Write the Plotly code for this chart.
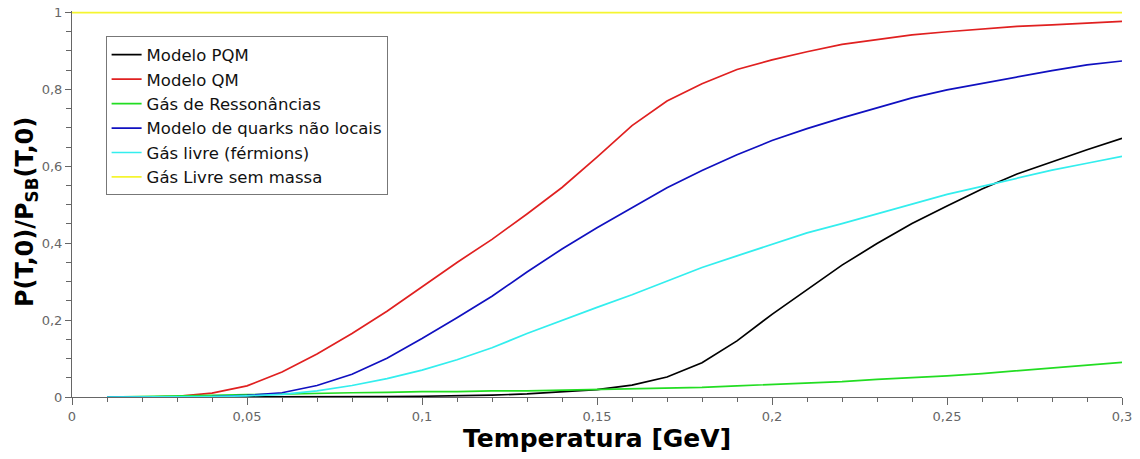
import plotly.graph_objects as go

T = [0.01, 0.02, 0.03, 0.04, 0.05, 0.06, 0.07, 0.08, 0.09, 0.10,
     0.11, 0.12, 0.13, 0.14, 0.15, 0.16, 0.17, 0.18, 0.19, 0.20,
     0.21, 0.22, 0.23, 0.24, 0.25, 0.26, 0.27, 0.28, 0.29, 0.30]

pqm = [0.0, 0.0, 0.0, 0.0, 0.0, 0.0, 0.0, 0.0, 0.001, 0.002,
       0.003, 0.005, 0.008, 0.013, 0.019, 0.031, 0.052, 0.089, 0.146, 0.215,
       0.280, 0.343, 0.399, 0.451, 0.497, 0.541, 0.580, 0.612, 0.643, 0.673]

qm = [0.0, 0.0, 0.002, 0.010, 0.029, 0.065, 0.112, 0.165, 0.223, 0.287,
      0.350, 0.410, 0.476, 0.545, 0.624, 0.706, 0.770, 0.815, 0.852, 0.877,
      0.898, 0.917, 0.930, 0.942, 0.950, 0.957, 0.964, 0.968, 0.972, 0.977]

hrg = [0.0, 0.001, 0.002, 0.004, 0.006, 0.008, 0.010, 0.011, 0.012, 0.014,
       0.014, 0.016, 0.016, 0.018, 0.019, 0.021, 0.023, 0.025, 0.029, 0.033,
       0.036, 0.040, 0.046, 0.050, 0.055, 0.061, 0.068, 0.075, 0.082, 0.090]

nonlocal_q = [0.0, 0.0, 0.0, 0.001, 0.004, 0.011, 0.030, 0.059, 0.101, 0.152,
              0.206, 0.262, 0.325, 0.385, 0.440, 0.491, 0.544, 0.589, 0.630, 0.667,
              0.698, 0.726, 0.753, 0.778, 0.799, 0.816, 0.834, 0.849, 0.864, 0.874]

free_fermions = [0.0, 0.0, 0.0, 0.001, 0.003, 0.007, 0.016, 0.030, 0.048, 0.070,
                 0.097, 0.128, 0.165, 0.200, 0.233, 0.266, 0.302, 0.337, 0.367, 0.398,
                 0.427, 0.451, 0.477, 0.503, 0.527, 0.548, 0.570, 0.590, 0.608, 0.626]

T_sb = [0.0, 0.30]
sb = [1.0, 1.0]

names = ["Modelo PQM", "Modelo QM", "Gás de Ressonâncias",
         "Modelo de quarks não locais", "Gás livre (férmions)", "Gás Livre sem massa"]
colors = ["#000000", "#e02020", "#22dd22", "#1010c0", "#33eeee", "#f5f530"]

fig = go.Figure()
series = [(T, pqm), (T, qm), (T, hrg), (T, nonlocal_q), (T, free_fermions), (T_sb, sb)]
for (x, y), name, c in zip(series, names, colors):
    fig.add_trace(go.Scatter(x=x, y=y, mode="lines", name=name,
                             line=dict(color=c, width=1.7)))

fig.update_layout(
    width=1140, height=459,
    margin=dict(l=72, r=18, t=11, b=62),
    paper_bgcolor="white", plot_bgcolor="white",
    separators=",.",
    showlegend=True,
    legend=dict(x=0.032, y=0.934, xanchor="left", yanchor="top",
                bgcolor="white", bordercolor="#777777", borderwidth=1,
                font=dict(family="DejaVu Sans", size=16.5, color="#111111"),
                tracegroupgap=0, itemwidth=30),
    font=dict(family="DejaVu Sans"),
    annotations=[dict(
        text="<b>P(T,0)/P<sub>SB</sub>(T,0)</b>",
        xref="paper", yref="paper", x=-0.0435, y=0.48,
        xanchor="center", yanchor="middle", textangle=-90, showarrow=False,
        font=dict(family="DejaVu Sans", size=24, color="#000000"))],
)

fig.update_xaxes(
    range=[0, 0.3], dtick=0.05, tick0=0, automargin=False,
    showgrid=False, zeroline=False,
    showline=True, linecolor="#666666", linewidth=1,
    ticks="outside", ticklen=7, tickcolor="#666666",
    tickfont=dict(family="DejaVu Sans", size=13, color="#666666"),
    minor=dict(dtick=0.01, ticks="outside", ticklen=4, tickcolor="#666666"),
    title=dict(text="<b>Temperatura [GeV]</b>",
               font=dict(family="DejaVu Sans", size=25, color="#000000"),
               standoff=6),
)
fig.update_yaxes(
    range=[0, 1.004], tickvals=[0, 0.2, 0.4, 0.6, 0.8, 1.0], automargin=False,
    showgrid=False, zeroline=False,
    showline=True, linecolor="#666666", linewidth=1,
    ticks="outside", ticklen=6, tickcolor="#666666",
    tickfont=dict(family="DejaVu Sans", size=13, color="#666666"),
    minor=dict(tickvals=[0.05, 0.1, 0.15, 0.25, 0.3, 0.35, 0.45, 0.5, 0.55,
                         0.65, 0.7, 0.75, 0.85, 0.9, 0.95],
               ticks="outside", ticklen=5, tickcolor="#666666"),
)

fig.write_html("out.html")
